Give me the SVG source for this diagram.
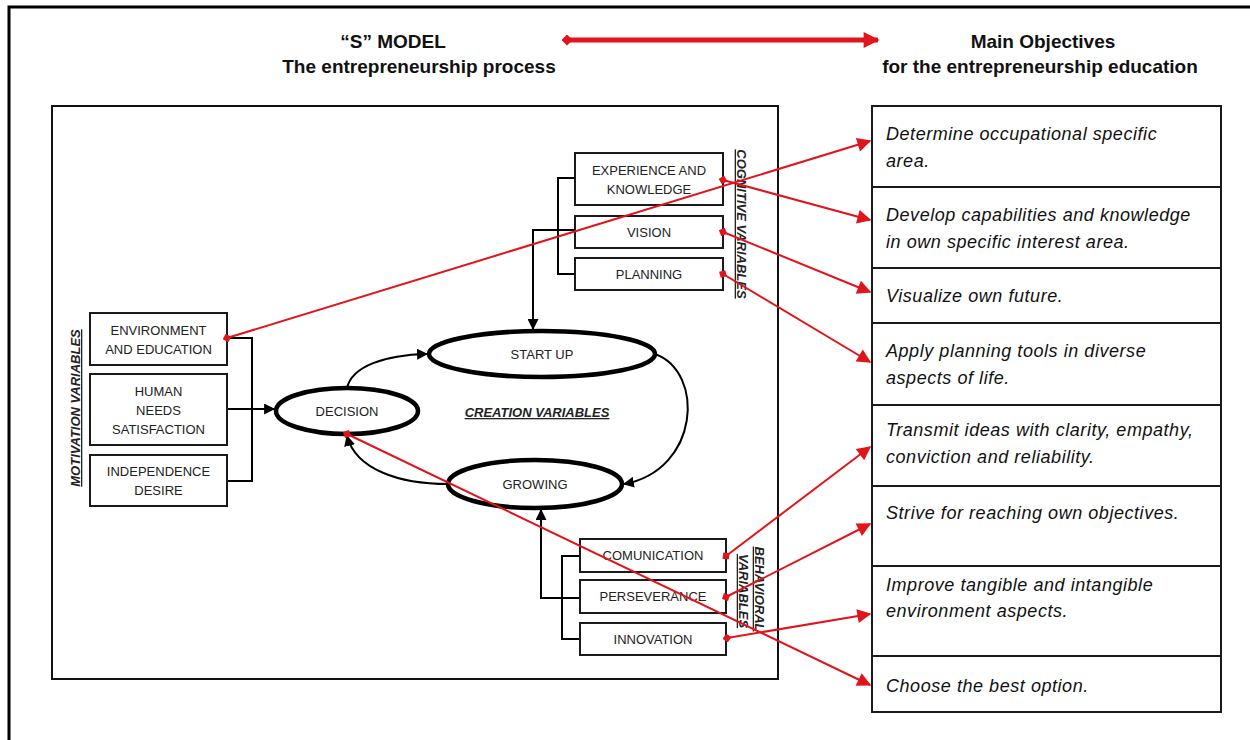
<svg xmlns="http://www.w3.org/2000/svg" width="1250" height="740" viewBox="0 0 1250 740">
  <style>
    .frame { fill: none; stroke: #000; stroke-width: 3; }
    .box { fill: #fff; stroke: #1a1a1a; stroke-width: 2; }
    .obj { fill: #fff; stroke: #1a1a1a; stroke-width: 2; }
    .ell { fill: #fff; stroke: #000; stroke-width: 4.5; }
    .lbl { font-family: "Liberation Sans", Arial, sans-serif; font-size: 13px; fill: #222; text-anchor: middle; }
    .objtxt { font-family: "Liberation Sans", Arial, sans-serif; font-size: 18px; letter-spacing: 0.55px; font-style: italic; fill: #111; }
    .head { font-family: "Liberation Sans", Arial, sans-serif; font-size: 19px; font-weight: bold; fill: #111; text-anchor: middle; }
    .vlab { font-family: "Liberation Sans", Arial, sans-serif; font-size: 13px; font-weight: bold; font-style: italic; fill: #222; text-anchor: middle; text-decoration: underline; }
    .blk { fill: none; stroke: #000; stroke-width: 2; }
    .red { fill: none; stroke: #e0141a; stroke-width: 2; marker-start: url(#dia); marker-end: url(#rtri); }
  </style>
  <defs>
    <marker id="btri2" viewBox="0 0 10 10" refX="9" refY="5" markerWidth="11" markerHeight="11" markerUnits="userSpaceOnUse" orient="auto">
      <path d="M0,0 L10,5 L0,10 z" fill="#000"/>
    </marker>
    <marker id="rtri" viewBox="0 0 10 10" refX="9" refY="5" markerWidth="17" markerHeight="14" markerUnits="userSpaceOnUse" orient="auto">
      <path d="M0,0 L10,5 L0,10 z" fill="#e0141a"/>
    </marker>
    <marker id="dia" viewBox="0 0 10 10" refX="5" refY="5" markerWidth="9" markerHeight="9" markerUnits="userSpaceOnUse" orient="auto">
      <path d="M5,0 L10,5 L5,10 L0,5 z" fill="#e0141a"/>
    </marker>
    <marker id="bigdia" viewBox="0 0 10 10" refX="5" refY="5" markerWidth="11" markerHeight="11" markerUnits="userSpaceOnUse" orient="auto">
      <path d="M5,0 L10,5 L5,10 L0,5 z" fill="#e0141a"/>
    </marker>
    <marker id="bigtri" viewBox="0 0 10 10" refX="9" refY="5" markerWidth="20" markerHeight="16" markerUnits="userSpaceOnUse" orient="auto">
      <path d="M0,0 L10,5 L0,10 z" fill="#e0141a"/>
    </marker>
  </defs>

  <rect width="1250" height="740" fill="#fff"/>

  <!-- outer page frame (left and top edges) -->
  <path class="frame" d="M9,740 V7 H1250"/>

  <!-- headings -->
  <g id="heading-left">
    <text class="head" x="393" y="48">“S” MODEL</text>
    <text class="head" x="419" y="73">The entrepreneurship process</text>
  </g>
  <g id="heading-right">
    <text class="head" x="1043" y="48">Main Objectives</text>
    <text class="head" x="1040" y="73">for the entrepreneurship education</text>
  </g>
  <g id="heading-link">
    <line x1="567" y1="40" x2="878" y2="40" stroke="#e0141a" stroke-width="5" marker-start="url(#bigdia)" marker-end="url(#bigtri)"/>
  </g>

  <!-- S model panel -->
  <rect id="model-panel" x="52" y="106" width="726" height="573" fill="none" stroke="#111" stroke-width="2"/>

  <!-- group labels -->
  <g id="label-motivation">
    <text class="vlab" transform="translate(80,408) rotate(-90)">MOTIVATION VARIABLES</text>
  </g>
  <g id="label-cognitive">
    <text class="vlab" transform="translate(737,224) rotate(90)">COGNITIVE VARIABLES</text>
  </g>
  <g id="label-behavioral">
    <text class="vlab" transform="translate(755,589) rotate(90)">BEHAVIORAL</text>
    <text class="vlab" transform="translate(739,591) rotate(90)">VARIABLES</text>
  </g>
  <g id="label-creation">
    <text class="vlab" x="537" y="417">CREATION VARIABLES</text>
  </g>

  <!-- black connectors -->
  <g id="flow-connectors">
    <!-- motivation bracket into DECISION -->
    <path class="blk" d="M227,338 H252 V481 H227"/>
    <path class="blk" d="M227,409 H274" marker-end="url(#btri2)"/>
    <!-- cognitive bracket into START UP -->
    <path class="blk" d="M575,178 H558 V274 H575"/>
    <path class="blk" d="M575,230 H533 V329" marker-end="url(#btri2)"/>
    <!-- behavioral bracket into GROWING -->
    <path class="blk" d="M580,556 H562 V639 H580"/>
    <path class="blk" d="M580,598 H541 V510" marker-end="url(#btri2)"/>
    <!-- creation cycle -->
    <path class="blk" stroke-width="1.6" d="M347,388 C352,366 385,355 427,354" marker-end="url(#btri2)"/>
    <path class="blk" stroke-width="1.6" d="M655,354 C705,372 700,470 624,484" marker-end="url(#btri2)"/>
    <path class="blk" stroke-width="1.6" d="M448,484 C400,484 356,470 347,436" marker-end="url(#btri2)"/>
  </g>

  <!-- motivation variables -->
  <g id="node-environment">
    <rect class="box" x="90" y="313" width="137" height="52"/>
    <text class="lbl" x="158.5" y="335">ENVIRONMENT</text>
    <text class="lbl" x="158.5" y="354">AND EDUCATION</text>
  </g>
  <g id="node-human-needs">
    <rect class="box" x="90" y="374" width="137" height="71"/>
    <text class="lbl" x="158.5" y="396">HUMAN</text>
    <text class="lbl" x="158.5" y="415">NEEDS</text>
    <text class="lbl" x="158.5" y="434">SATISFACTION</text>
  </g>
  <g id="node-independence">
    <rect class="box" x="90" y="455" width="137" height="51"/>
    <text class="lbl" x="158.5" y="476">INDEPENDENCE</text>
    <text class="lbl" x="158.5" y="495">DESIRE</text>
  </g>

  <!-- cognitive variables -->
  <g id="node-experience">
    <rect class="box" x="575" y="153" width="148" height="52"/>
    <text class="lbl" x="649" y="175">EXPERIENCE AND</text>
    <text class="lbl" x="649" y="194">KNOWLEDGE</text>
  </g>
  <g id="node-vision">
    <rect class="box" x="575" y="216" width="148" height="32"/>
    <text class="lbl" x="649" y="237">VISION</text>
  </g>
  <g id="node-planning">
    <rect class="box" x="575" y="258" width="148" height="32"/>
    <text class="lbl" x="649" y="279">PLANNING</text>
  </g>

  <!-- creation variables -->
  <g id="node-decision">
    <ellipse class="ell" cx="347" cy="411" rx="71" ry="23"/>
    <text class="lbl" x="347" y="416">DECISION</text>
  </g>
  <g id="node-startup">
    <ellipse class="ell" cx="542" cy="354" rx="113" ry="23"/>
    <text class="lbl" x="542" y="359">START UP</text>
  </g>
  <g id="node-growing">
    <ellipse class="ell" cx="535" cy="484" rx="87" ry="24"/>
    <text class="lbl" x="535" y="489">GROWING</text>
  </g>

  <!-- behavioral variables -->
  <g id="node-communication">
    <rect class="box" x="580" y="539" width="146" height="33"/>
    <text class="lbl" x="653" y="560">COMUNICATION</text>
  </g>
  <g id="node-perseverance">
    <rect class="box" x="580" y="580" width="146" height="33"/>
    <text class="lbl" x="653" y="601">PERSEVERANCE</text>
  </g>
  <g id="node-innovation">
    <rect class="box" x="580" y="623" width="146" height="32"/>
    <text class="lbl" x="653" y="644">INNOVATION</text>
  </g>

  <!-- education objectives -->
  <g id="obj-1">
    <rect class="obj" x="872" y="106" width="349" height="81"/>
    <text class="objtxt" x="886" y="140">Determine occupational specific</text>
    <text class="objtxt" x="886" y="167">area.</text>
  </g>
  <g id="obj-2">
    <rect class="obj" x="872" y="187" width="349" height="81"/>
    <text class="objtxt" x="886" y="221">Develop capabilities and knowledge</text>
    <text class="objtxt" x="886" y="248">in own specific interest area.</text>
  </g>
  <g id="obj-3">
    <rect class="obj" x="872" y="268" width="349" height="55"/>
    <text class="objtxt" x="886" y="302">Visualize own future.</text>
  </g>
  <g id="obj-4">
    <rect class="obj" x="872" y="323" width="349" height="82"/>
    <text class="objtxt" x="886" y="357">Apply planning tools in diverse</text>
    <text class="objtxt" x="886" y="384">aspects of life.</text>
  </g>
  <g id="obj-5">
    <rect class="obj" x="872" y="405" width="349" height="81"/>
    <text class="objtxt" x="886" y="436">Transmit ideas with clarity, empathy,</text>
    <text class="objtxt" x="886" y="463">conviction and reliability.</text>
  </g>
  <g id="obj-6">
    <rect class="obj" x="872" y="486" width="349" height="80"/>
    <text class="objtxt" x="886" y="519">Strive for reaching own objectives.</text>
  </g>
  <g id="obj-7">
    <rect class="obj" x="872" y="566" width="349" height="90"/>
    <text class="objtxt" x="886" y="591">Improve tangible and intangible</text>
    <text class="objtxt" x="886" y="617">environment aspects.</text>
  </g>
  <g id="obj-8">
    <rect class="obj" x="872" y="656" width="349" height="56"/>
    <text class="objtxt" x="886" y="692">Choose the best option.</text>
  </g>

  <!-- red links from variables to objectives -->
  <g id="objective-links">
    <line class="red" x1="227" y1="338" x2="870" y2="141"/>
    <line class="red" x1="723" y1="180" x2="870" y2="220"/>
    <line class="red" x1="723" y1="232" x2="870" y2="292"/>
    <line class="red" x1="723" y1="274" x2="870" y2="362"/>
    <line class="red" x1="726" y1="556" x2="870" y2="447"/>
    <line class="red" x1="726" y1="597" x2="870" y2="524"/>
    <line class="red" x1="727" y1="638" x2="870" y2="614"/>
    <line class="red" x1="347" y1="434" x2="870" y2="685"/>
  </g>
</svg>
